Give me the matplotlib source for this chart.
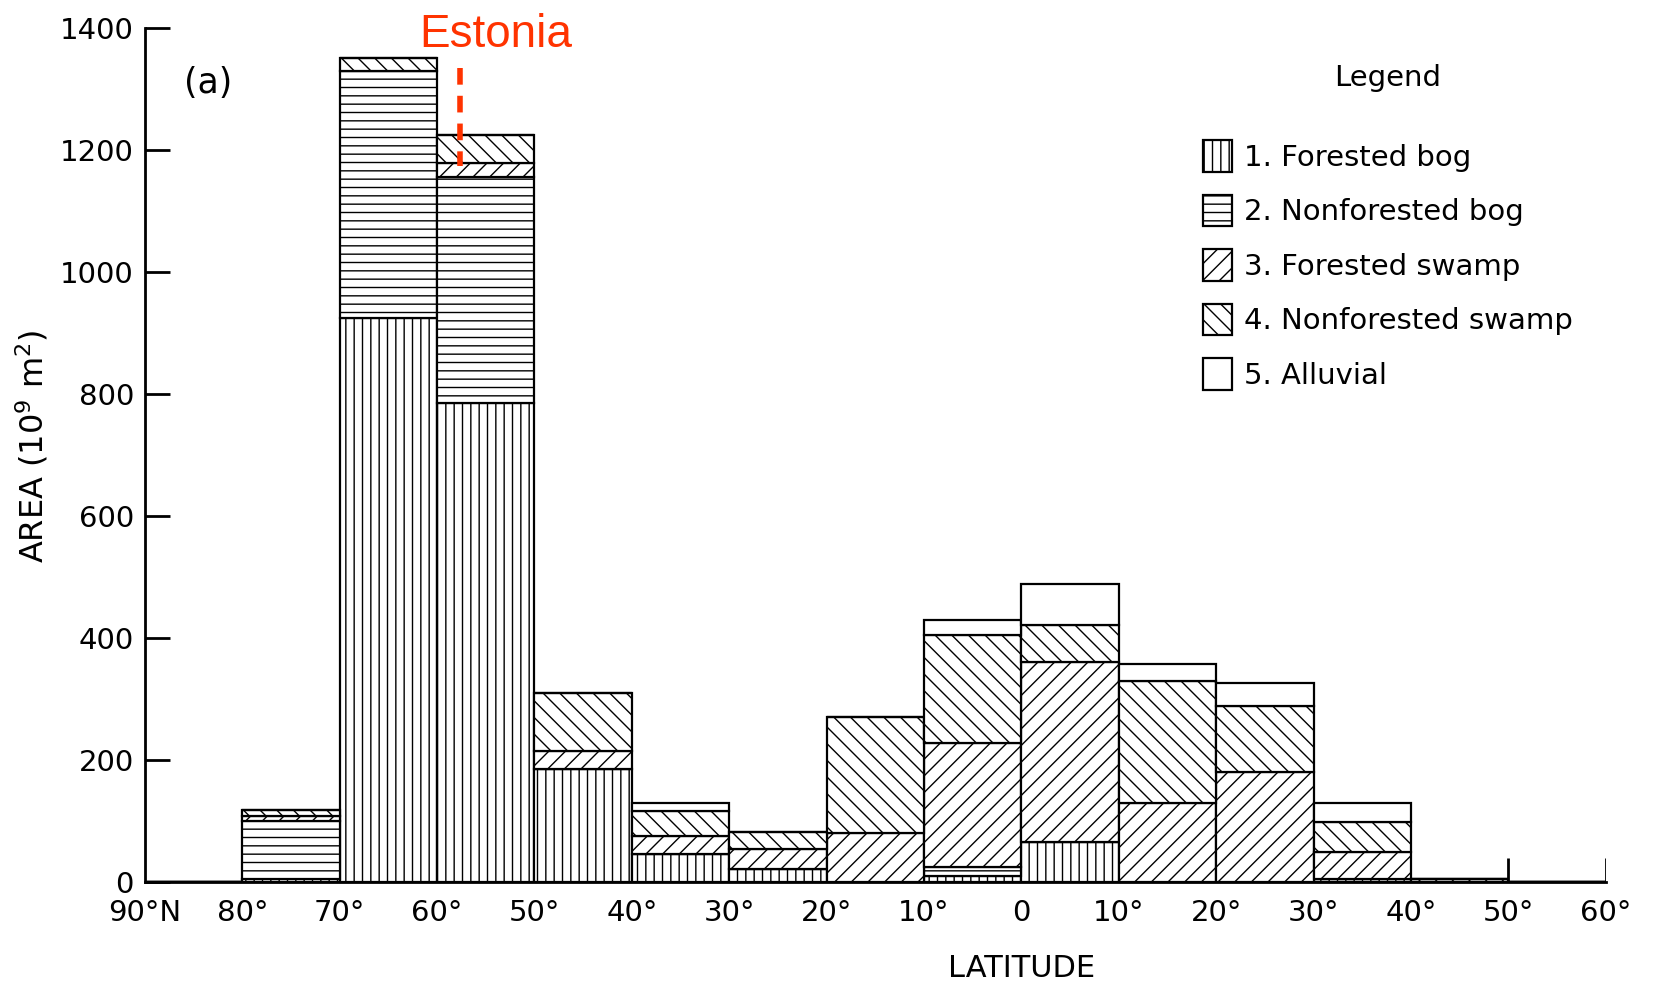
import matplotlib.pyplot as plt
import numpy as np

# latitude bins, northern latitudes negative (90N .. 60S), 10 deg wide
bin_left = np.arange(-90, 60, 10)
tick_pos = np.arange(-90, 61, 10)
tick_labels = ['90°N', '80°', '70°', '60°', '50°', '40°', '30°', '20°', '10°',
               '0', '10°', '20°', '30°', '40°', '50°', '60°']

# area (10^9 m^2) per bin
forested_bog = [0, 5, 925, 785, 185, 45, 22, 0, 10, 66, 0, 0, 5, 0, 0]
nonforested_bog = [0, 95, 405, 372, 0, 0, 0, 0, 15, 0, 0, 0, 0, 0, 0]
forested_swamp = [0, 8, 0, 22, 30, 30, 32, 80, 203, 294, 130, 180, 44, 4, 0]
nonforested_swamp = [0, 10, 22, 47, 95, 42, 28, 190, 177, 62, 200, 108, 50, 0, 0]
alluvial = [0, 0, 0, 0, 0, 12, 0, 0, 25, 66, 28, 38, 30, 0, 0]

series = [
    ('1. Forested bog', forested_bog, '||'),
    ('2. Nonforested bog', nonforested_bog, '--'),
    ('3. Forested swamp', forested_swamp, '//'),
    ('4. Nonforested swamp', nonforested_swamp, '\\\\'),
    ('5. Alluvial', alluvial, ''),
]

plt.rcParams['hatch.linewidth'] = 1.0

fig = plt.figure(figsize=(16.57, 9.81), dpi=100)
ax = fig.add_axes([0.0875, 0.101, 0.8815, 0.870])

bottom = np.zeros(len(bin_left))
for label, vals, hatch in series:
    vals = np.array(vals, dtype=float)
    ax.bar(bin_left, vals, width=10, bottom=bottom, align='edge',
           color='white', edgecolor='black', linewidth=1.6, hatch=hatch,
           label=label)
    bottom += vals

ax.set_xlim(-90, 60)
ax.set_ylim(0, 1400)
ax.set_yticks(np.arange(0, 1401, 200))
ax.set_xticks(tick_pos)
ax.set_xticklabels(tick_labels)
ax.tick_params(axis='y', direction='in', length=18, width=2, labelsize=21, pad=8)
ax.tick_params(axis='x', length=0, labelsize=21, pad=12)
for s in ['top', 'right']:
    ax.spines[s].set_visible(False)
for s in ['left', 'bottom']:
    ax.spines[s].set_linewidth(2)

# small end ticks on the far right
ax.vlines(tick_pos[-2:], 0, 40, colors='black', linewidth=2)

ax.set_ylabel('AREA (10$^9$ m$^2$)', fontsize=23)
ax.yaxis.set_label_coords(-0.065, 0.51)
ax.set_xlabel('LATITUDE', fontsize=22)
ax.xaxis.set_label_coords(0.6, -0.085)

ax.text(-83.5, 1310, '(a)', fontsize=25, ha='center', va='center')

# Estonia marker
ax.text(-54, 1390, 'Estonia', color='#ff3300', fontsize=33,
        family='Liberation Sans', ha='center', va='center', clip_on=False)
ax.plot([-57.7, -57.7], [1335, 1175], color='#ff3300', linewidth=4,
        linestyle=(0, (3, 2)))

leg = ax.legend(title='Legend\n', loc='upper left', bbox_to_anchor=(0.71, 0.962),
                bbox_transform=fig.transFigure, frameon=False, fontsize=21,
                title_fontsize=21, handlelength=1.0, handleheight=1.3,
                handletextpad=0.4, labelspacing=0.78)
leg.get_title().set_linespacing(0.9)

fig.savefig('out.png', dpi=100)
